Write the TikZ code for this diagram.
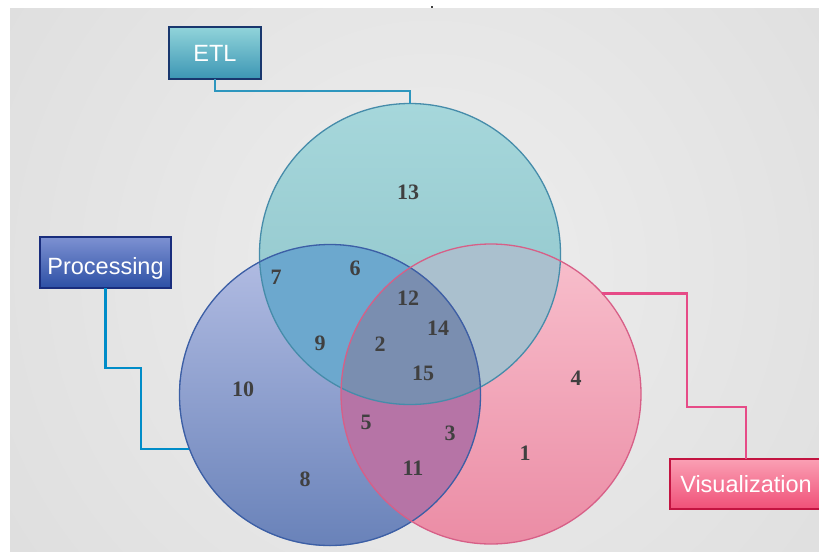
\documentclass[tikz,border=0pt]{standalone}
\usepackage{fontspec}
\setmainfont{Liberation Serif}
\newfontfamily\boxfont{Liberation Sans}
\definecolor{bgin}{RGB}{238,238,238}
\definecolor{bgout}{RGB}{211,211,211}
\definecolor{tTop}{RGB}{166,215,219}
\definecolor{tBot}{RGB}{140,194,200}
\definecolor{bTop}{RGB}{180,190,228}
\definecolor{bBot}{RGB}{105,130,185}
\definecolor{pTop}{RGB}{248,192,205}
\definecolor{pBot}{RGB}{235,140,165}
\definecolor{tbFill}{RGB}{108,168,206}
\definecolor{tpFill}{RGB}{170,192,206}
\definecolor{bpFill}{RGB}{182,116,166}
\definecolor{allFill}{RGB}{122,142,176}
\definecolor{tLine}{RGB}{70,140,170}
\definecolor{bLine}{RGB}{60,95,165}
\definecolor{pLine}{RGB}{215,95,135}
\definecolor{numgray}{RGB}{64,64,64}
\definecolor{etlTop}{RGB}{145,212,218}
\definecolor{etlBot}{RGB}{60,150,180}
\definecolor{etlEdge}{RGB}{25,55,110}
\definecolor{etlWire}{RGB}{45,150,190}
\definecolor{procTop}{RGB}{125,145,210}
\definecolor{procBot}{RGB}{45,80,165}
\definecolor{procEdge}{RGB}{25,45,125}
\definecolor{procWire}{RGB}{0,140,200}
\definecolor{visTop}{RGB}{250,160,180}
\definecolor{visBot}{RGB}{240,80,120}
\definecolor{visEdge}{RGB}{195,20,65}
\definecolor{visWire}{RGB}{230,75,135}
\begin{document}
\begin{tikzpicture}[x=1pt,y=-1pt,
  num/.style={font=\bfseries\fontsize{22}{22}\selectfont, text=numgray, inner sep=0pt},
  setbox/.style={font=\boxfont\fontsize{23.5}{24}\selectfont, text=white,
    inner sep=0pt, outer sep=0pt, line width=1.8pt,
    text height=17pt, text depth=0pt},
  ring/.style={circle, inner sep=0pt, outer sep=0pt, minimum size=301pt},
  wire/.style={line width=2.4pt}]
\useasboundingbox (0,0) rectangle (819,552);
% page and soft grey backdrop
\fill[white] (0,0) rectangle (819,552);
\begin{scope}
  \clip (10,8) rectangle (819,551);
  \shade[inner color=bgin, outer color=bgout] (430,270) circle[radius=900pt];
\end{scope}
\fill[numgray] (431,6) rectangle (433,8);

% circle centres
\coordinate (T) at (410,254);
\coordinate (B) at (330,395);
\coordinate (P) at (491,394);

% single-set areas
\shade[top color=tTop, bottom color=tBot] (T) circle[radius=150.5pt];
\shade[top color=bTop, bottom color=bBot] (B) circle[radius=151pt];
\shade[top color=pTop, bottom color=pBot] (P) circle[radius=150pt];
% pairwise overlaps
\begin{scope}
  \clip (T) circle[radius=150.5pt];
  \fill[tbFill] (B) circle[radius=151pt];
  \fill[tpFill] (P) circle[radius=150pt];
\end{scope}
\begin{scope}
  \clip (B) circle[radius=151pt];
  \fill[bpFill] (P) circle[radius=150pt];
\end{scope}
% triple overlap
\begin{scope}
  \clip (T) circle[radius=150.5pt];
  \clip (B) circle[radius=151pt];
  \fill[allFill] (P) circle[radius=150pt];
\end{scope}

% outlines
\node[ring, draw=tLine, line width=1.3pt] (tc) at (T) {};
\node[ring, draw=bLine, line width=1.3pt] (bc) at (B) {};
\node[ring, draw=pLine, line width=1.3pt, minimum size=300pt] (pc) at (P) {};

% region numbers
\node[num] (n13) at (408,192) {13};
\node[num] (n7)  at (276,277) {7};
\node[num] (n6)  at (355,268) {6};
\node[num] (n12) at (408,298) {12};
\node[num] (n14) at (438,328) {14};
\node[num] (n9)  at (320,343) {9};
\node[num] (n2)  at (380,344) {2};
\node[num] (n15) at (423,373) {15};
\node[num] (n4)  at (576,378) {4};
\node[num] (n10) at (243,389) {10};
\node[num] (n5)  at (366,422) {5};
\node[num] (n3)  at (450,433) {3};
\node[num] (n1)  at (525,453) {1};
\node[num] (n11) at (413,468) {11};
\node[num] (n8)  at (305,479) {8};

% set name boxes
\node[setbox, draw=etlEdge, top color=etlTop, bottom color=etlBot,
  minimum width=92pt, minimum height=52pt] (etl) at (215,53) {ETL};
\node[setbox, draw=procEdge, top color=procTop, bottom color=procBot,
  minimum width=131pt, minimum height=51pt] (proc) at (105.5,262.5)
  {\raisebox{-3pt}{Processing}};
\node[setbox, draw=visEdge, top color=visTop, bottom color=visBot,
  minimum width=152pt, minimum height=50pt] (vis) at (746,484) {Visualization};

% connectors
\coordinate (pbend) at (141,368);
\coordinate (vbend) at (687,407);
\draw[wire, etlWire] (etl.south) -- ++(0,12) -| (tc.north);
\draw[wire, procWire] (proc.south) |- (pbend) |- (bc.201);
\draw[wire, visWire] (pc.42) -| (vbend) -| (vis.north);
\end{tikzpicture}
\end{document}
